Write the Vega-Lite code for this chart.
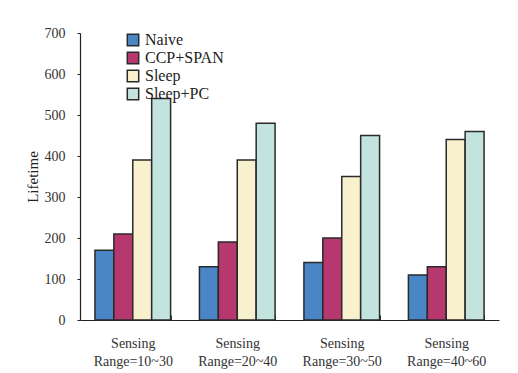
{
  "$schema": "https://vega.github.io/schema/vega-lite/v6.json",
  "width": 419,
  "height": 287,
  "autosize": "none",
  "padding": {"left": 80, "top": 33, "right": 19, "bottom": 53},
  "background": "white",
  "data": {
    "values": [
      {"range": "Sensing Range=10~30", "scheme": "Naive", "lifetime": 170},
      {"range": "Sensing Range=10~30", "scheme": "CCP+SPAN", "lifetime": 210},
      {"range": "Sensing Range=10~30", "scheme": "Sleep", "lifetime": 390},
      {"range": "Sensing Range=10~30", "scheme": "Sleep+PC", "lifetime": 540},
      {"range": "Sensing Range=20~40", "scheme": "Naive", "lifetime": 130},
      {"range": "Sensing Range=20~40", "scheme": "CCP+SPAN", "lifetime": 190},
      {"range": "Sensing Range=20~40", "scheme": "Sleep", "lifetime": 390},
      {"range": "Sensing Range=20~40", "scheme": "Sleep+PC", "lifetime": 480},
      {"range": "Sensing Range=30~50", "scheme": "Naive", "lifetime": 140},
      {"range": "Sensing Range=30~50", "scheme": "CCP+SPAN", "lifetime": 200},
      {"range": "Sensing Range=30~50", "scheme": "Sleep", "lifetime": 350},
      {"range": "Sensing Range=30~50", "scheme": "Sleep+PC", "lifetime": 450},
      {"range": "Sensing Range=40~60", "scheme": "Naive", "lifetime": 110},
      {"range": "Sensing Range=40~60", "scheme": "CCP+SPAN", "lifetime": 130},
      {"range": "Sensing Range=40~60", "scheme": "Sleep", "lifetime": 440},
      {"range": "Sensing Range=40~60", "scheme": "Sleep+PC", "lifetime": 460}
    ]
  },
  "mark": {"type": "bar", "stroke": "#2a2a2a", "strokeWidth": 1.5},
  "encoding": {
    "x": {
      "field": "range",
      "type": "nominal",
      "sort": null,
      "title": null,
      "scale": {"paddingInner": 0.276, "paddingOuter": 0.143},
      "axis": {
        "labelAngle": 0,
        "labelExpr": "split(datum.label, ' ')",
        "labelLineHeight": 18,
        "labelPadding": 21,
        "labelBaseline": "top",
        "tickBand": "extent",
        "tickSize": -5,
        "tickColor": "#333",
        "domainColor": "#222",
        "domainWidth": 1.2
      }
    },
    "xOffset": {
      "field": "scheme",
      "type": "nominal",
      "sort": ["Naive", "CCP+SPAN", "Sleep", "Sleep+PC"],
      "scale": {"paddingInner": 0, "paddingOuter": 0}
    },
    "y": {
      "field": "lifetime",
      "type": "quantitative",
      "title": "Lifetime",
      "scale": {"domain": [0, 700], "nice": false},
      "axis": {
        "values": [0, 100, 200, 300, 400, 500, 600, 700],
        "grid": false,
        "tickSize": 3,
        "tickColor": "#222",
        "domainColor": "#222",
        "domainWidth": 1.2,
        "labelPadding": 12,
        "titleFontSize": 15,
        "titlePadding": 4
      }
    },
    "fill": {
      "field": "scheme",
      "type": "nominal",
      "sort": ["Naive", "CCP+SPAN", "Sleep", "Sleep+PC"],
      "scale": {
        "domain": ["Naive", "CCP+SPAN", "Sleep", "Sleep+PC"],
        "range": ["#4a86c6", "#b6386f", "#f9f1cd", "#c3e3df"]
      },
      "legend": {
        "title": null,
        "orient": "none",
        "legendX": 45,
        "legendY": -1,
        "symbolType": "square",
        "symbolSize": 130,
        "symbolStrokeColor": "#2a2a2a",
        "symbolStrokeWidth": 1.5,
        "labelFont": "Liberation Serif",
        "labelFontSize": 16,
        "labelColor": "#222",
        "labelOffset": 4,
        "rowPadding": 0
      }
    }
  },
  "config": {
    "view": {"stroke": null},
    "axis": {
      "labelFont": "Liberation Serif",
      "labelFontSize": 14,
      "labelColor": "#333",
      "titleFont": "Liberation Serif",
      "titleFontSize": 14,
      "titleFontWeight": "normal",
      "titleColor": "#222"
    }
  }
}
